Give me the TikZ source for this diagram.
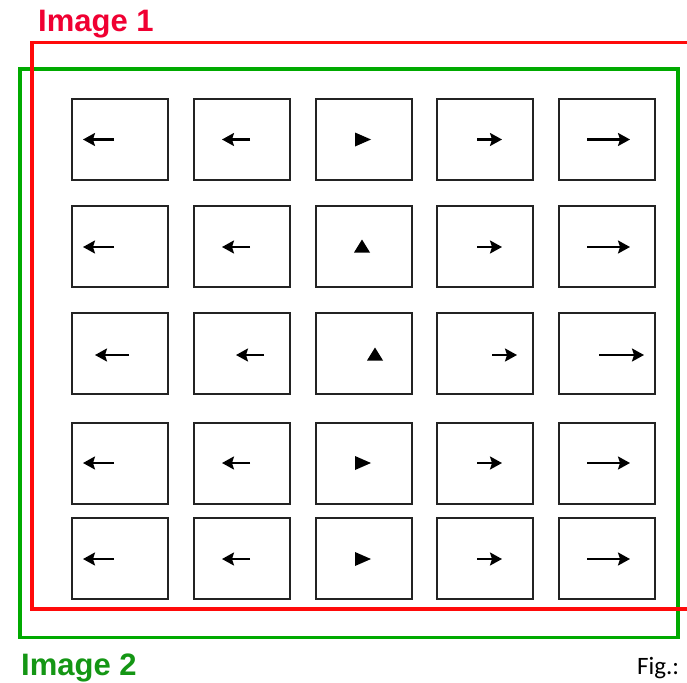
\documentclass[tikz,border=0pt]{standalone}
\usepackage{fontspec}
\setmainfont{Liberation Sans}
\newfontfamily\figfont{Carlito}
\usetikzlibrary{arrows.meta}
\definecolor{redline}{RGB}{255,10,10}
\definecolor{redtext}{RGB}{240,0,50}
\definecolor{greenline}{RGB}{0,170,0}
\definecolor{greentext}{RGB}{20,150,20}
\definecolor{boxgray}{RGB}{35,35,35}
\tikzset{
  cell/.style={draw=boxgray, line width=2pt, minimum width=96pt, minimum height=81pt, inner sep=0pt},
  flow/.style={line width=2.2pt, -{Stealth[length=12pt,width=13pt,inset=2pt]}},
  frameA/.style={draw=redline, line width=3.5pt},
  frameB/.style={draw=greenline, line width=3.5pt},
}
\begin{document}
\begin{tikzpicture}[x=1pt,y=-1pt]
\useasboundingbox (0,0) rectangle (687,682);
% frames
\draw[frameB] (20,69) rectangle (678,637.5);
\draw[frameA] (688,42.5) -- (32,42.5) -- (32,609) -- (688,609);
% labels
\node[anchor=base west, inner sep=0pt, text=redtext, font=\fontsize{31}{34}\selectfont\bfseries] (l1) at (38,32) {Image 1};
\node[anchor=base west, inner sep=0pt, text=greentext, font=\fontsize{31}{34}\selectfont\bfseries] (l2) at (21,675) {Image 2};
\node[anchor=base west, inner sep=0pt, font=\fontsize{25}{28}\selectfont\figfont] (fig) at (637,674) {Fig.:};
% boxes
\foreach \r/\yy in {1/139.2,2/246.2,3/353.8,4/463,5/558.3}{
  \foreach \c/\xx in {1/120.3,2/241.8,3/363.5,4/485,5/606.7}{
    \node[cell] (b\r\c) at (\xx,\yy) {};
  }
}
% row 1
\draw[flow] (114,139.5) -- (83,139.5);
\draw[flow] (250,139.5) -- (222,139.5);
\fill (355,132.5) -- (371,139.5) -- (355,146.5) -- cycle;
\draw[flow] (477,139.5) -- (502,139.5);
\draw[flow] (587,139.5) -- (630,139.5);
% row 2
\draw[flow] (114,247) -- (83,247);
\draw[flow] (250,247) -- (222,247);
\fill (354,252.5) -- (362,239.5) -- (370,252.5) -- cycle;
\draw[flow] (477,247) -- (502,247);
\draw[flow] (587,247) -- (630,247);
% row 3
\draw[flow] (129,355) -- (95,355);
\draw[flow] (264,355) -- (236,355);
\fill (367,360.5) -- (375,347.5) -- (383,360.5) -- cycle;
\draw[flow] (492,355) -- (517,355);
\draw[flow] (599,355) -- (644,355);
% row 4
\draw[flow] (114,463) -- (83,463);
\draw[flow] (250,463) -- (222,463);
\fill (355,456) -- (371,463) -- (355,470) -- cycle;
\draw[flow] (477,463) -- (502,463);
\draw[flow] (587,463) -- (630,463);
% row 5
\draw[flow] (114,559) -- (83,559);
\draw[flow] (250,559) -- (222,559);
\fill (355,552) -- (371,559) -- (355,566) -- cycle;
\draw[flow] (477,559) -- (502,559);
\draw[flow] (587,559) -- (630,559);
\end{tikzpicture}
\end{document}
